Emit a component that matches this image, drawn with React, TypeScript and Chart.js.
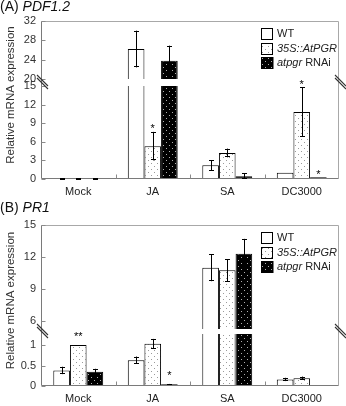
import React, { useEffect, useRef } from 'react';
import { Chart, registerables } from 'chart.js';

Chart.register(...registerables);

const FONT = '"Liberation Sans", Arial, Helvetica, sans-serif';

// Shared categories and series
const groups = ['Mock', 'JA', 'SA', 'DC3000'];
const seriesLabels = ['WT', '35S::AtPGR', 'atpgr RNAi'];
// legend label pieces: [text, italic]
const legendPieces: [string, boolean][][] = [
  [['WT', false]],
  [['35S::AtPGR', true]],
  [['atpgr', true], [' RNAi', false]],
];

// (A) PDF1.2 relative expression
const pdfWT = [0.02, 26.2, 2.2, 1.0];
const pdfWTErr = [0.02, 3.8, 0.85, 0];
const pdfOE = [0.02, 5.3, 4.2, 10.8];
const pdfOEErr = [0.02, 2.3, 0.7, 4.0];
const pdfRNAi = [0.02, 23.8, 0.45, 0.3];
const pdfRNAiErr = [0.02, 3.1, 0.45, 0];
const pdfWTMarks = ['', '', '', ''];
const pdfOEMarks = ['', '*', '', '*'];
const pdfRNAiMarks = ['', '', '', '*'];
const pdfLowTicks = [0, 3, 6, 9, 12, 15];
const pdfHighTicks = [20, 24, 28, 32];

// (B) PR1 relative expression
const prWT = [0.38, 0.63, 11.0, 0.16];
const prWTErr = [0.09, 0.09, 1.27, 0.04];
const prOE = [1.0, 1.03, 10.75, 0.19];
const prOEErr = [0, 0.12, 1.05, 0.04];
const prRNAi = [0.35, 0.04, 12.3, 0.02];
const prRNAiErr = [0.07, 0.01, 1.4, 0];
const prWTMarks = ['', '', '', ''];
const prOEMarks = ['**', '', '', ''];
const prRNAiMarks = ['', '*', '', ''];
const prLowTicks = [0, 0.5, 1];
const prHighTicks = [6, 9, 12, 15];

type PanelData = {
  prefix: string;
  gene: string;
  values: number[][];
  errors: number[][];
  marks: string[][];
  lowMax: number;
  highMin: number;
  highMax: number;
  lowTicks: number[];
  highTicks: number[];
};

type PanelLayout = {
  top: number;
  height: number;
  padTop: number;
  xHeight: number;
  weights: [number, number, number]; // upper, gap, lower
  starGap: number;
  titleY: number;
};

const panelA: PanelData = {
  prefix: '(A) ',
  gene: 'PDF1.2',
  values: [pdfWT, pdfOE, pdfRNAi],
  errors: [pdfWTErr, pdfOEErr, pdfRNAiErr],
  marks: [pdfWTMarks, pdfOEMarks, pdfRNAiMarks],
  lowMax: 15,
  highMin: 20,
  highMax: 32,
  lowTicks: pdfLowTicks,
  highTicks: pdfHighTicks,
};

const panelB: PanelData = {
  prefix: '(B) ',
  gene: 'PR1',
  values: [prWT, prOE, prRNAi],
  errors: [prWTErr, prOEErr, prRNAiErr],
  marks: [prWTMarks, prOEMarks, prRNAiMarks],
  lowMax: 1.27,
  highMin: 5.25,
  highMax: 15,
  lowTicks: prLowTicks,
  highTicks: prHighTicks,
};

const layoutA: PanelLayout = { top: 0, height: 202, padTop: 21, xHeight: 23, weights: [58, 7, 93], starGap: 6, titleY: 7 };
const layoutB: PanelLayout = { top: 202, height: 204, padTop: 23, xHeight: 20, weights: [104, 5, 52], starGap: 11, titleY: 6 };

const AXIS_W = 41;
const RIGHT_PAD = 7;

function dotPattern(bg: string, dot: string): CanvasPattern | string {
  const c = document.createElement('canvas');
  c.width = 6;
  c.height = 6;
  const g = c.getContext('2d');
  if (!g) return bg;
  g.fillStyle = bg;
  g.fillRect(0, 0, 6, 6);
  g.fillStyle = dot;
  g.fillRect(1, 1, 1, 1);
  g.fillRect(4, 4, 1, 1);
  return g.createPattern(c, 'repeat') || bg;
}

function drawMixed(ctx: CanvasRenderingContext2D, pieces: [string, boolean][], x: number, y: number, size: number) {
  let cx = x;
  for (const [t, it] of pieces) {
    ctx.font = `${it ? 'italic ' : ''}${size}px ${FONT}`;
    ctx.fillText(t, cx, y);
    cx += ctx.measureText(t).width;
  }
}

function decorPlugin(data: PanelData, layout: PanelLayout, fills: (CanvasPattern | string)[]) {
  return {
    id: 'panelDecor',
    afterDatasetsDraw(chart: any) {
      const ctx: CanvasRenderingContext2D = chart.ctx;
      const ca = chart.chartArea;
      const sx = chart.scales.x;
      const yLow = chart.scales.yLow;
      const yHigh = chart.scales.yHigh;
      const yGap = chart.scales.yGap;
      ctx.save();

      // frame
      const L = Math.round(ca.left) + 0.5;
      const R = Math.round(ca.right) - 0.5;
      const T = Math.round(ca.top) + 0.5;
      const B = Math.round(ca.bottom) - 0.5;
      ctx.lineWidth = 1;
      ctx.strokeStyle = '#a8a8a8';
      ctx.beginPath();
      ctx.moveTo(L, T);
      ctx.lineTo(R, T);
      ctx.lineTo(R, B);
      ctx.stroke();
      ctx.strokeStyle = '#7a7a7a';
      ctx.beginPath();
      ctx.moveTo(L, T);
      ctx.lineTo(L, B);
      ctx.lineTo(R, B);
      ctx.stroke();

      // inner tick marks on the value axes
      ctx.strokeStyle = '#8a8a8a';
      ctx.beginPath();
      for (const [sc, ticks] of [[yLow, data.lowTicks], [yHigh, data.highTicks]] as [any, number[]][]) {
        for (const v of ticks) {
          const y = Math.round(sc.getPixelForValue(v)) + 0.5;
          ctx.moveTo(L, y);
          ctx.lineTo(L + 4, y);
        }
      }
      // category separators on the x axis
      for (let i = 0; i < groups.length - 1; i++) {
        const x = Math.round((sx.getPixelForValue(i) + sx.getPixelForValue(i + 1)) / 2) + 0.5;
        ctx.moveTo(x, B);
        ctx.lineTo(x, B - 4);
      }
      ctx.stroke();

      // error bars and significance marks
      ctx.strokeStyle = '#000';
      ctx.fillStyle = '#000';
      data.values.forEach((vals, si) => {
        const meta = chart.getDatasetMeta(si * 2);
        vals.forEach((v, gi) => {
          const e = data.errors[si][gi];
          const sc = v > data.lowMax ? yHigh : yLow;
          const el = meta.data[gi];
          if (!el) return;
          const x = Math.round(el.x) + 0.5;
          const hiV = v + e;
          const loV = v - e;
          let topPx = sc.getPixelForValue(Math.min(v, sc.max));
          if (e > 0) {
            const yT = sc.getPixelForValue(Math.min(hiV, sc.max));
            const yB = sc.getPixelForValue(Math.max(loV, sc.min));
            ctx.beginPath();
            ctx.moveTo(x, yT);
            ctx.lineTo(x, yB);
            if (hiV <= sc.max) {
              ctx.moveTo(x - 2.5, Math.round(yT) + 0.5);
              ctx.lineTo(x + 2.5, Math.round(yT) + 0.5);
            }
            if (loV >= sc.min) {
              ctx.moveTo(x - 2.5, Math.round(yB) - 0.5);
              ctx.lineTo(x + 2.5, Math.round(yB) - 0.5);
            }
            ctx.stroke();
            topPx = yT;
          }
          const m = data.marks[si][gi];
          if (m) {
            const size = 11;
            ctx.font = `${size}px ${FONT}`;
            ctx.textAlign = 'center';
            ctx.textBaseline = 'alphabetic';
            const cy = topPx - layout.starGap;
            ctx.fillText(m, el.x, cy + 0.58 * size);
          }
        });
      });

      // axis break marks
      const gy = (yGap.top + yGap.bottom) / 2;
      ctx.strokeStyle = '#333';
      ctx.lineWidth = 1.1;
      ctx.beginPath();
      for (const ax of [ca.left, ca.right]) {
        for (let k = 0; k < 2; k++) {
          const off = -1.5 + 3 * k;
          ctx.moveTo(ax - 4, gy - 6 + off);
          ctx.lineTo(ax + 7, gy + 5 + off);
        }
      }
      ctx.stroke();

      // legend
      const bx = Math.round(ca.right - 78) + 0.5;
      ctx.lineWidth = 1;
      ctx.textAlign = 'left';
      ctx.textBaseline = 'middle';
      legendPieces.forEach((pieces, i) => {
        const ry = Math.round(ca.top + 13 + i * 14.7);
        ctx.fillStyle = fills[i] as any;
        ctx.fillRect(bx, ry - 6, 12, 12);
        ctx.strokeStyle = '#000';
        ctx.strokeRect(bx, ry - 5.5, 11, 11);
        ctx.fillStyle = '#222';
        drawMixed(ctx, pieces, bx + 15.5, ry, 11);
      });

      // panel title
      ctx.fillStyle = '#111';
      ctx.textBaseline = 'middle';
      drawMixed(ctx, [[data.prefix, false], [data.gene, true]], 0, layout.titleY, 14);

      // value axis title
      ctx.save();
      ctx.translate(11, (ca.top + ca.bottom) / 2 - 5);
      ctx.rotate(-Math.PI / 2);
      ctx.textAlign = 'center';
      ctx.textBaseline = 'middle';
      ctx.font = `11.5px ${FONT}`;
      ctx.fillStyle = '#333';
      ctx.fillText('Relative mRNA expression', 0, 0);
      ctx.restore();

      ctx.restore();
    },
  };
}

function PanelChart({ data, layout }: { data: PanelData; layout: PanelLayout }) {
  const ref = useRef<HTMLCanvasElement | null>(null);

  useEffect(() => {
    const canvas = ref.current;
    if (!canvas) return;
    const fills = ['#ffffff', dotPattern('#ffffff', '#9a9a9a'), dotPattern('#000000', '#b0b0b0')];

    const datasets: any[] = [];
    data.values.forEach((vals, si) => {
      const common = {
        label: seriesLabels[si],
        stack: 'g' + si,
        backgroundColor: fills[si],
        borderColor: '#000',
        borderWidth: 1,
        barPercentage: 1,
        categoryPercentage: 0.67,
      };
      datasets.push({
        ...common,
        yAxisID: 'yLow',
        data: vals.map((v) => Math.min(v, data.lowMax)),
        borderSkipped: (c: any) => (vals[c.dataIndex] > data.lowMax ? 'top' : 'start'),
      });
      datasets.push({
        ...common,
        yAxisID: 'yHigh',
        base: data.highMin,
        data: vals.map((v) => (v > data.highMin ? v : null)),
      });
    });

    const tickFont = { family: FONT, size: 11 };
    const valueAxis = (min: number, max: number, ticks: number[], weight: number, stackWeight: number, show: boolean) => ({
      type: 'linear',
      position: 'left',
      stack: 'value',
      stackWeight,
      weight,
      min,
      max,
      stacked: false,
      beginAtZero: false,
      grid: { display: false, drawTicks: false },
      border: { display: false },
      ticks: {
        display: show,
        autoSkip: false,
        font: tickFont,
        color: '#333',
        padding: 5,
        callback: (v: any) => String(v),
      },
      afterBuildTicks: (s: any) => {
        s.ticks = ticks.map((v) => ({ value: v }));
      },
      afterFit: (s: any) => {
        s.width = AXIS_W;
      },
    });

    const [wHigh, wGap, wLow] = layout.weights;

    const chart = new Chart(canvas, {
      type: 'bar',
      data: { labels: groups, datasets },
      options: {
        responsive: false,
        animation: false,
        events: [],
        layout: { autoPadding: false, padding: { top: layout.padTop, right: RIGHT_PAD, left: 0, bottom: 0 } },
        plugins: { legend: { display: false }, tooltip: { enabled: false }, title: { display: false } },
        scales: {
          x: {
            type: 'category',
            offset: true,
            grid: { display: false, drawTicks: false },
            border: { display: false },
            ticks: { font: tickFont, color: '#222', padding: 6, maxRotation: 0, autoSkip: false },
            afterFit: (s: any) => {
              s.height = layout.xHeight;
            },
          },
          yLow: valueAxis(0, data.lowMax, data.lowTicks, 1, wLow, true),
          yGap: valueAxis(0, 1, [], 2, wGap, false),
          yHigh: valueAxis(data.highMin, data.highMax, data.highTicks, 3, wHigh, true),
        } as any,
      },
      plugins: [decorPlugin(data, layout, fills)],
    } as any);

    return () => chart.destroy();
  }, [data, layout]);

  return (
    <div style={{ position: 'absolute', left: 0, top: layout.top, width: 346, height: layout.height }}>
      <canvas ref={ref} width={346} height={layout.height} style={{ display: 'block' }} />
    </div>
  );
}

export default function App() {
  return (
    <>
      <PanelChart data={panelA} layout={layoutA} />
      <PanelChart data={panelB} layout={layoutB} />
    </>
  );
}
